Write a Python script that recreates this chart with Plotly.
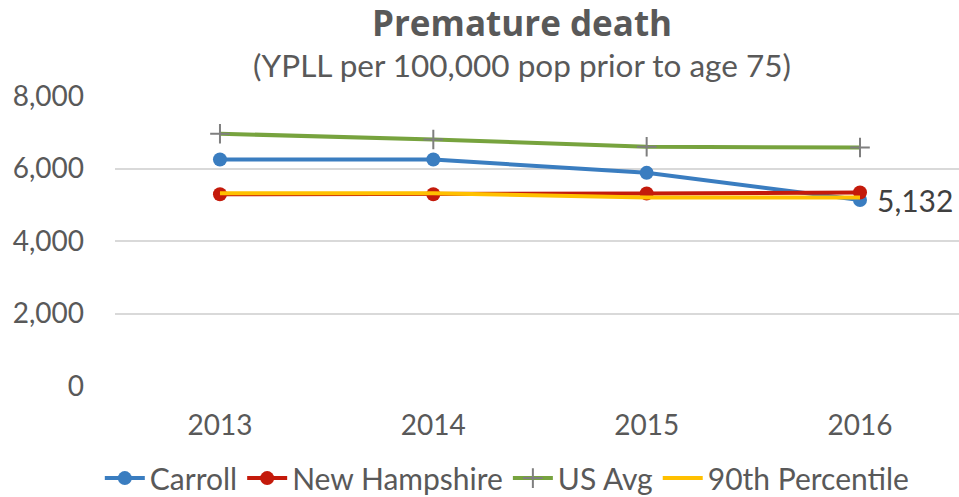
import plotly.graph_objects as go

years = ["2013", "2014", "2015", "2016"]
carroll = [6250, 6250, 5880, 5132]
new_hampshire = [5290, 5290, 5310, 5340]
us_avg = [6960, 6800, 6600, 6580]
pct90 = [5317, 5317, 5200, 5200]
y_ticks = [0, 2000, 4000, 6000, 8000]

FONT = "Lato"
GRAY = "#595959"

idx = list(range(len(years)))
fig = go.Figure()

fig.add_trace(go.Scatter(x=idx, y=us_avg, name="US Avg", mode="lines+markers",
                         line=dict(color="#77A33E", width=4),
                         marker=dict(symbol="cross-thin", size=14,
                                     line=dict(color="#7F7F7F", width=2))))
fig.add_trace(go.Scatter(x=idx, y=carroll, name="Carroll", mode="lines+markers",
                         line=dict(color="#3A7DC0", width=4),
                         marker=dict(symbol="circle", size=14, color="#3A7DC0")))
fig.add_trace(go.Scatter(x=idx, y=new_hampshire, name="New Hampshire", mode="lines+markers",
                         line=dict(color="#C41A0B", width=4),
                         marker=dict(symbol="circle", size=14, color="#C41A0B")))
fig.add_trace(go.Scatter(x=idx, y=pct90, name="90th Percentile", mode="lines",
                         line=dict(color="#FFC000", width=4)))

# data label on last Carroll point
fig.add_annotation(x=idx[-1], y=carroll[-1], text=f"{carroll[-1]:,}",
                   xref="x", yref="y", showarrow=False, xanchor="left",
                   xshift=15, yshift=0,
                   font=dict(family=FONT, size=30, color="#404040"))

fig.add_annotation(text="<b>Premature death</b>", xref="paper", yref="paper",
                   x=0.482, y=1.252, showarrow=False, yanchor="middle",
                   font=dict(family="Open Sans", size=35, color=GRAY))
fig.add_annotation(text="(YPLL per 100,000 pop prior to age 75)", xref="paper", yref="paper",
                   x=0.482, y=1.107, showarrow=False, yanchor="middle",
                   font=dict(family=FONT, size=31.5, color=GRAY))

fig.update_layout(
    width=959, height=497,
    margin=dict(l=115, r=0, t=96, b=111),
    paper_bgcolor="white", plot_bgcolor="white",
    font=dict(family=FONT, color=GRAY),
    showlegend=True,
    legend=dict(orientation="h", xref="container", x=0.529, xanchor="center",
                yref="container", y=0.038, yanchor="middle",
                font=dict(family=FONT, size=30, color=GRAY),
                traceorder="normal", itemwidth=40, tracegroupgap=0),
    xaxis=dict(range=[-0.492, 3.464], tickvals=idx, ticktext=years,
               showgrid=False, zeroline=False, showline=False,
               tickfont=dict(family=FONT, size=28, color=GRAY),
               ticks="", ticklabelstandoff=20),
    yaxis=dict(range=[0, 8000], tickvals=y_ticks,
               ticktext=[f"{v:,}" for v in y_ticks],
               showgrid=True, gridcolor="#D9D9D9", gridwidth=1.5,
               zeroline=False, showline=False, ticks="",
               tickfont=dict(family=FONT, size=28, color=GRAY),
               ticklabelstandoff=30),
)

# Legend order: Carroll, New Hampshire, US Avg, 90th Percentile
fig.data[0].legendrank = 3
fig.data[1].legendrank = 1
fig.data[2].legendrank = 2
fig.data[3].legendrank = 4

fig.write_html("out.html", config={"displayModeBar": False},
               post_script="document.body.style.margin='0';document.body.style.overflow='hidden';")
